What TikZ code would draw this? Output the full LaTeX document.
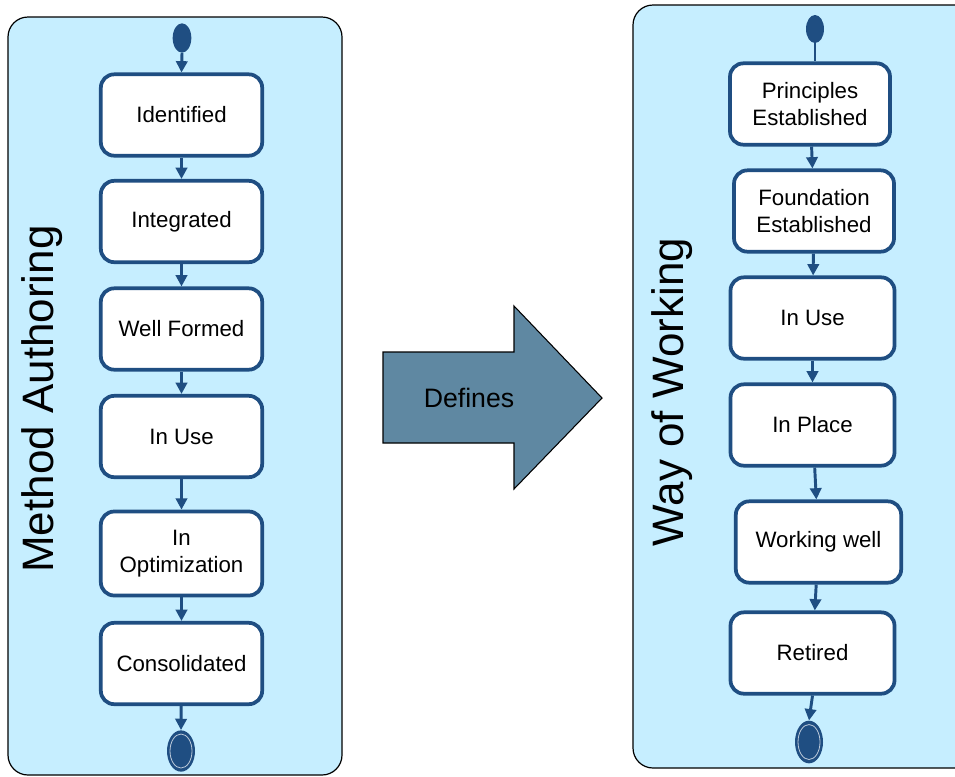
\documentclass[tikz,border=0pt]{standalone}
\usepackage{fontspec}
\setmainfont{Liberation Sans}
\usetikzlibrary{shapes.geometric,arrows.meta}
\definecolor{bord}{RGB}{31,78,130}
\definecolor{panel}{RGB}{198,238,255}
\definecolor{bigarrow}{RGB}{95,136,162}
\begin{document}
\begin{tikzpicture}[x=0.75pt,y=-0.75pt,
  stbox/.style={draw=bord, line width=2.8pt, fill=white, rounded corners=10pt,
    minimum height=61pt, align=center, inner sep=2pt,
    font=\fontsize{16.7}{20.5}\selectfont},
  lbox/.style={stbox, minimum width=121pt},
  conn/.style={draw=bord, line width=2.2pt, -{Triangle[length=8.5pt,width=8.5pt]}},
  startnode/.style={ellipse, fill=bord, inner sep=0pt},
  panelbox/.style={draw=black, line width=0.9pt, fill=panel, rounded corners=15pt},
  bigtitle/.style={rotate=90, font=\fontsize{33}{36}\selectfont}
]
\useasboundingbox (0,0) rectangle (955,776);
\clip (0,0) rectangle (955,776);

% panels
\draw[panelbox] (8,17) rectangle (342,775);
\draw[panelbox] (633,5) rectangle (975,768);

% big arrow
\draw[fill=bigarrow, draw=black, line width=0.8pt]
  (383,352) -- (514,352) -- (514,306) -- (602,398) -- (514,489) -- (514,443) -- (383,443) -- cycle;
\node[font=\fontsize{20}{24}\selectfont] (def) at (469,398) {Defines};

% titles
\node[bigtitle] (ma) at (42,399) {Method Authoring};
\node[bigtitle] (ww) at (672,392) {Way of Working};

% left column
\node[startnode, minimum width=14pt, minimum height=22pt] (ls) at (182,38) {};
\node[lbox] (l1) at (181.5,115) {Identified};
\node[lbox] (l2) at (181.5,221.5) {Integrated};
\node[lbox] (l3) at (181.5,329) {Well Formed};
\node[lbox] (l4) at (181.5,436.5) {In Use};
\node[lbox, minimum height=63pt] (l5) at (181.5,553.5) {In\\Optimization};
\node[lbox] (l6) at (181.5,663.5) {Consolidated};
\node[startnode, minimum width=21pt, minimum height=31pt] (le) at (181,751) {};
\draw[white!70!bord, line width=0.6pt] (le.center) ellipse [x radius=11, y radius=17];

\draw[conn] (ls.south) -- (l1.north);
\draw[conn] (l1) -- (l2);
\draw[conn] (l2) -- (l3);
\draw[conn] (l3) -- (l4);
\draw[conn] (l4) -- (l5);
\draw[conn] (l5) -- (l6);
\draw[conn] (l6) -- (le.north);

% right column
\node[startnode, minimum width=13.5pt, minimum height=21pt] (rs) at (815,29) {};
\node[stbox, minimum width=120pt] (r1) at (810,104) {Principles\\Established};
\node[stbox, minimum width=120pt] (r2) at (814,211) {Foundation\\Established};
\node[stbox, minimum width=123pt] (r3) at (812.5,318) {In Use};
\node[stbox, minimum width=123pt] (r4) at (812.5,425) {In Place};
\node[stbox, minimum width=124pt] (r5) at (818.5,542) {Working well};
\node[stbox, minimum width=123pt] (r6) at (812.5,653) {Retired};
\node[startnode, minimum width=21pt, minimum height=32pt] (re) at (809,742) {};
\draw[white!70!bord, line width=0.6pt] (re.center) ellipse [x radius=11, y radius=17.5];

\draw[bord, line width=2.2pt] (rs.south) -- (rs.south |- r1.north);
\draw[conn] (r1) -- (r2);
\draw[conn] (r2) -- (r3);
\draw[conn] (r3) -- (r4);
\draw[conn] (r4) -- (r5);
\draw[conn] (r5) -- (r6);
\draw[conn] (r6.south) -- (re.north);
\end{tikzpicture}
\end{document}
